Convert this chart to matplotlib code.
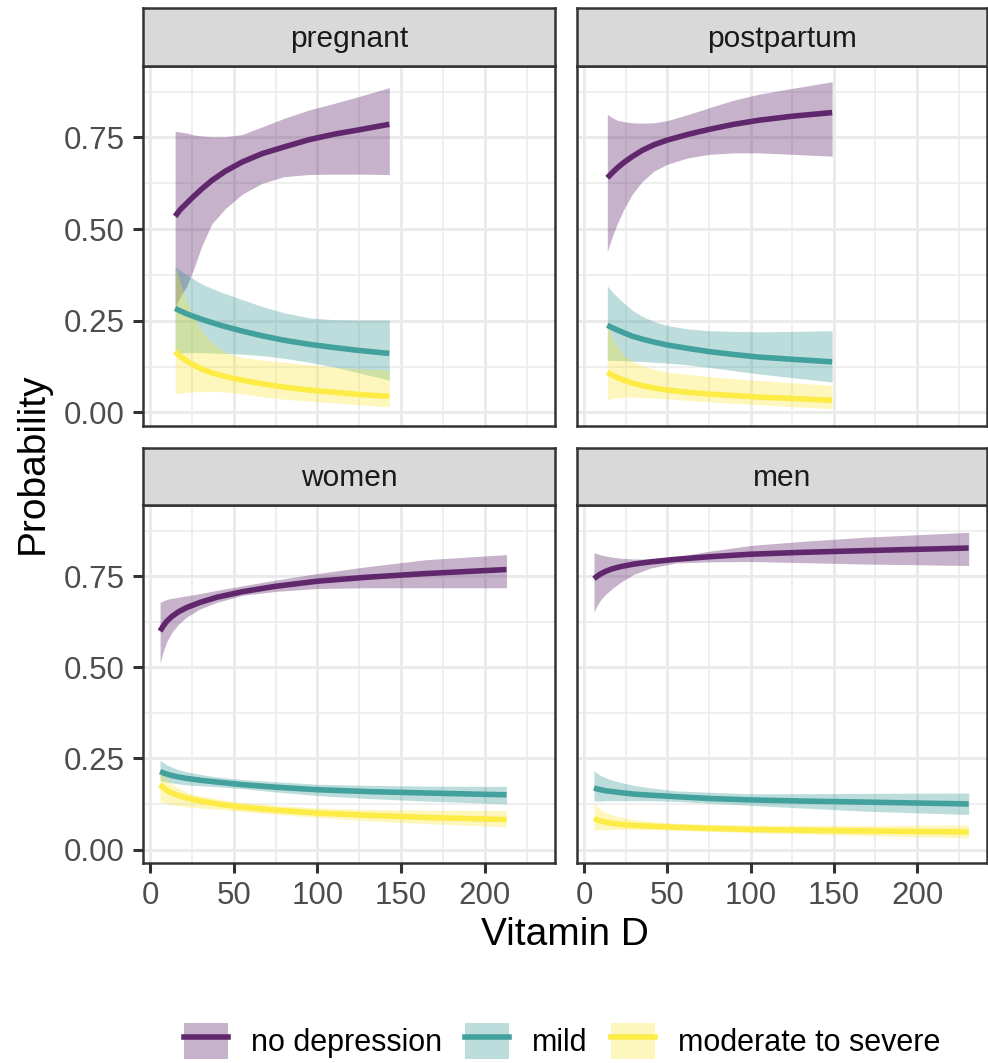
import matplotlib as mpl

mpl.use("Agg")
import matplotlib.pyplot as plt
from matplotlib.lines import Line2D
from matplotlib.patches import Patch

plt.rcParams["font.family"] = ["Liberation Sans", "DejaVu Sans"]

# ---- data (Vitamin D vs predicted probability) ----
categories = ["no depression", "mild", "moderate to severe"]
panels = ["pregnant", "postpartum", "women", "men"]

preg_x = [15, 18, 22, 26, 31, 37, 45, 55, 67, 80, 95, 110, 125, 143]
preg_none = [0.535, 0.553, 0.571, 0.589, 0.610, 0.633, 0.658, 0.683, 0.706, 0.724, 0.744, 0.759, 0.771, 0.786]
preg_none_lo = [0.288, 0.315, 0.345, 0.39, 0.455, 0.515, 0.556, 0.595, 0.625, 0.643, 0.649, 0.65, 0.65, 0.649]
preg_none_hi = [0.767, 0.765, 0.762, 0.757, 0.754, 0.752, 0.752, 0.758, 0.779, 0.802, 0.825, 0.843, 0.862, 0.886]
preg_mild = [0.284, 0.277, 0.269, 0.262, 0.254, 0.245, 0.234, 0.222, 0.209, 0.197, 0.186, 0.177, 0.169, 0.161]
preg_mild_lo = [0.161, 0.162, 0.163, 0.163, 0.163, 0.162, 0.161, 0.159, 0.155, 0.148, 0.137, 0.124, 0.108, 0.088]
preg_mild_hi = [0.398, 0.388, 0.375, 0.364, 0.35, 0.338, 0.324, 0.308, 0.289, 0.272, 0.258, 0.253, 0.252, 0.252]
preg_sev = [0.166, 0.153, 0.14, 0.129, 0.118, 0.108, 0.098, 0.088, 0.078, 0.069, 0.061, 0.055, 0.049, 0.044]
preg_sev_lo = [0.051, 0.053, 0.055, 0.056, 0.057, 0.057, 0.056, 0.051, 0.043, 0.036, 0.031, 0.026, 0.021, 0.015]
preg_sev_hi = [0.40, 0.355, 0.30, 0.26, 0.222, 0.19, 0.163, 0.15, 0.143, 0.137, 0.13, 0.124, 0.119, 0.115]

post_x = [14, 17, 20, 24, 29, 35, 42, 50, 62, 75, 90, 105, 125, 149]
post_none = [0.64, 0.654, 0.667, 0.682, 0.698, 0.715, 0.73, 0.743, 0.758, 0.772, 0.786, 0.797, 0.808, 0.818]
post_none_lo = [0.439, 0.48, 0.515, 0.555, 0.595, 0.63, 0.658, 0.677, 0.694, 0.704, 0.708, 0.708, 0.704, 0.699]
post_none_hi = [0.813, 0.804, 0.797, 0.793, 0.79, 0.789, 0.79, 0.796, 0.812, 0.831, 0.852, 0.868, 0.884, 0.902]
post_mild = [0.238, 0.231, 0.225, 0.217, 0.208, 0.20, 0.192, 0.184, 0.175, 0.166, 0.158, 0.151, 0.145, 0.138]
post_mild_lo = [0.142, 0.142, 0.142, 0.141, 0.14, 0.139, 0.137, 0.135, 0.13, 0.123, 0.114, 0.105, 0.095, 0.083]
post_mild_hi = [0.345, 0.329, 0.315, 0.298, 0.279, 0.262, 0.248, 0.237, 0.228, 0.223, 0.221, 0.22, 0.221, 0.223]
post_sev = [0.11, 0.102, 0.095, 0.088, 0.08, 0.073, 0.067, 0.061, 0.055, 0.05, 0.046, 0.042, 0.038, 0.033]
post_sev_lo = [0.035, 0.038, 0.04, 0.042, 0.042, 0.041, 0.039, 0.037, 0.033, 0.029, 0.025, 0.021, 0.016, 0.01]
post_sev_hi = [0.24, 0.205, 0.179, 0.156, 0.139, 0.127, 0.118, 0.11, 0.104, 0.098, 0.092, 0.087, 0.081, 0.074]

women_x = [6, 8, 10, 13, 17, 22, 30, 40, 55, 75, 100, 130, 165, 213]
women_none = [0.599, 0.614, 0.626, 0.639, 0.652, 0.664, 0.678, 0.692, 0.707, 0.722, 0.736, 0.747, 0.757, 0.768]
women_none_lo = [0.511, 0.545, 0.57, 0.595, 0.618, 0.638, 0.66, 0.678, 0.697, 0.708, 0.716, 0.718, 0.718, 0.718]
women_none_hi = [0.678, 0.682, 0.686, 0.689, 0.692, 0.696, 0.702, 0.711, 0.723, 0.739, 0.757, 0.776, 0.795, 0.809]
women_mild = [0.214, 0.21, 0.207, 0.203, 0.199, 0.195, 0.19, 0.185, 0.178, 0.171, 0.164, 0.159, 0.155, 0.15]
women_mild_lo = [0.189, 0.187, 0.185, 0.183, 0.18, 0.177, 0.175, 0.172, 0.167, 0.158, 0.148, 0.14, 0.133, 0.125]
women_mild_hi = [0.245, 0.238, 0.232, 0.226, 0.219, 0.213, 0.206, 0.199, 0.192, 0.186, 0.179, 0.176, 0.174, 0.173]
women_sev = [0.178, 0.169, 0.162, 0.155, 0.148, 0.141, 0.133, 0.125, 0.116, 0.108, 0.10, 0.094, 0.088, 0.082]
women_sev_lo = [0.13, 0.128, 0.126, 0.123, 0.12, 0.117, 0.114, 0.11, 0.104, 0.097, 0.088, 0.079, 0.071, 0.062]
women_sev_hi = [0.22, 0.205, 0.192, 0.18, 0.168, 0.157, 0.147, 0.139, 0.129, 0.121, 0.114, 0.11, 0.108, 0.107]

men_x = [6, 8, 10, 13, 17, 22, 30, 40, 55, 75, 100, 130, 170, 231]
men_none = [0.743, 0.75, 0.756, 0.763, 0.77, 0.776, 0.783, 0.789, 0.796, 0.803, 0.81, 0.815, 0.82, 0.827]
men_none_lo = [0.652, 0.67, 0.685, 0.70, 0.716, 0.733, 0.755, 0.772, 0.786, 0.789, 0.79, 0.787, 0.783, 0.779]
men_none_hi = [0.814, 0.811, 0.808, 0.805, 0.802, 0.799, 0.797, 0.797, 0.803, 0.818, 0.834, 0.845, 0.857, 0.87]
men_mild = [0.169, 0.166, 0.164, 0.161, 0.159, 0.156, 0.152, 0.149, 0.145, 0.14, 0.136, 0.133, 0.13, 0.125]
men_mild_lo = [0.133, 0.133, 0.133, 0.134, 0.134, 0.134, 0.134, 0.134, 0.132, 0.127, 0.121, 0.114, 0.105, 0.096]
men_mild_hi = [0.216, 0.209, 0.203, 0.197, 0.19, 0.184, 0.176, 0.169, 0.161, 0.157, 0.153, 0.153, 0.154, 0.155]
men_sev = [0.085, 0.081, 0.078, 0.075, 0.072, 0.069, 0.066, 0.064, 0.061, 0.058, 0.055, 0.053, 0.051, 0.048]
men_sev_lo = [0.053, 0.053, 0.054, 0.054, 0.055, 0.055, 0.055, 0.055, 0.053, 0.05, 0.046, 0.043, 0.038, 0.032]
men_sev_hi = [0.13, 0.118, 0.11, 0.102, 0.095, 0.089, 0.082, 0.077, 0.072, 0.069, 0.067, 0.066, 0.066, 0.067]

x_ticks = [0, 50, 100, 150, 200]
y_ticks = [0.0, 0.25, 0.50, 0.75]
y_tick_labels = ["0.00", "0.25", "0.50", "0.75"]

fill_colors = ["#440154", "#21908C", "#FDE725"]
line_colors = ["#60276D", "#42A09D", "#FDEB46"]

panel_data = {
    "pregnant": (preg_x, [(preg_none, preg_none_lo, preg_none_hi),
                          (preg_mild, preg_mild_lo, preg_mild_hi),
                          (preg_sev, preg_sev_lo, preg_sev_hi)]),
    "postpartum": (post_x, [(post_none, post_none_lo, post_none_hi),
                            (post_mild, post_mild_lo, post_mild_hi),
                            (post_sev, post_sev_lo, post_sev_hi)]),
    "women": (women_x, [(women_none, women_none_lo, women_none_hi),
                        (women_mild, women_mild_lo, women_mild_hi),
                        (women_sev, women_sev_lo, women_sev_hi)]),
    "men": (men_x, [(men_none, men_none_lo, men_none_hi),
                    (men_mild, men_mild_lo, men_mild_hi),
                    (men_sev, men_sev_lo, men_sev_hi)]),
}

W, H = 988, 1063
fig = plt.figure(figsize=(W / 100, H / 100), dpi=100)


def fx(px):
    return px / W


def fy(py):
    return 1 - py / H


# pixel boxes: (left, right) per column, (strip_top, panel_top, panel_bottom) per row
cols = [(143, 555), (577, 987)]
rows = [(8, 66, 426), (448, 505, 863)]

for k, name in enumerate(panels):
    r, c = divmod(k, 2)
    l, rt = cols[c]
    st, pt, pb = rows[r]
    ax = fig.add_axes([fx(l), fy(pb), fx(rt - l), (pb - pt) / H])
    x, series = panel_data[name]
    for (fit, lo, hi), fc in zip(series, fill_colors):
        ax.fill_between(x, lo, hi, color=fc, alpha=0.3, lw=0, zorder=2)
    for (fit, lo, hi), lc in zip(series, line_colors):
        ax.plot(x, fit, color=lc, lw=4.0, solid_capstyle="butt",
                solid_joinstyle="round", zorder=3)

    ax.set_xlim(-4.2, 242)
    ax.set_ylim(-0.037, 0.945)
    ax.set_xticks(x_ticks)
    ax.set_yticks(y_ticks)
    ax.set_xticks([25, 75, 125, 175, 225], minor=True)
    ax.set_yticks([0.125, 0.375, 0.625, 0.875], minor=True)
    ax.grid(True, which="major", color="#EBEBEB", lw=2.1, zorder=0)
    ax.grid(True, which="minor", color="#EBEBEB", lw=1.1, zorder=0)
    ax.set_axisbelow(True)
    ax.tick_params(which="minor", length=0)
    ax.tick_params(which="major", length=7, width=2.2, color="#333333",
                   labelcolor="#4D4D4D", labelsize=22.5, pad=6)
    if c == 0:
        ax.set_yticklabels(y_tick_labels)
    else:
        ax.tick_params(axis="y", which="both", length=0, labelleft=False)
    if r == 0:
        ax.tick_params(axis="x", which="both", length=0, labelbottom=False)
    for sp in ax.spines.values():
        sp.set_color("#333333")
        sp.set_linewidth(1.8)
        sp.set_zorder(5)

    # facet strip
    sax = fig.add_axes([fx(l), fy(pt), fx(rt - l), (pt - st) / H])
    sax.set_xticks([])
    sax.set_yticks([])
    sax.set_facecolor("#D9D9D9")
    for sp in sax.spines.values():
        sp.set_color("#333333")
        sp.set_linewidth(1.8)
    sax.text(0.5, 0.47, name, ha="center", va="center", fontsize=21.5,
             color="#1A1A1A", transform=sax.transAxes)

fig.text(fx(33), fy(463), "Probability", rotation=90, ha="center",
         va="center", fontsize=28)
fig.text(fx(565), fy(935), "Vitamin D", ha="center", va="center",
         fontsize=28)

handles = [
    (Patch(facecolor=fc, alpha=0.3, edgecolor="none"),
     Line2D([], [], color=lc, lw=4.0))
    for fc, lc in zip(fill_colors, line_colors)
]
fig.legend(handles, categories, loc="center", bbox_to_anchor=(fx(562), fy(1041)),
           ncol=3, frameon=False, fontsize=22, handlelength=1.45,
           handleheight=1.45, handletextpad=0.75, columnspacing=0.75,
           borderpad=0, borderaxespad=0)

fig.savefig("out.png", dpi=100)
